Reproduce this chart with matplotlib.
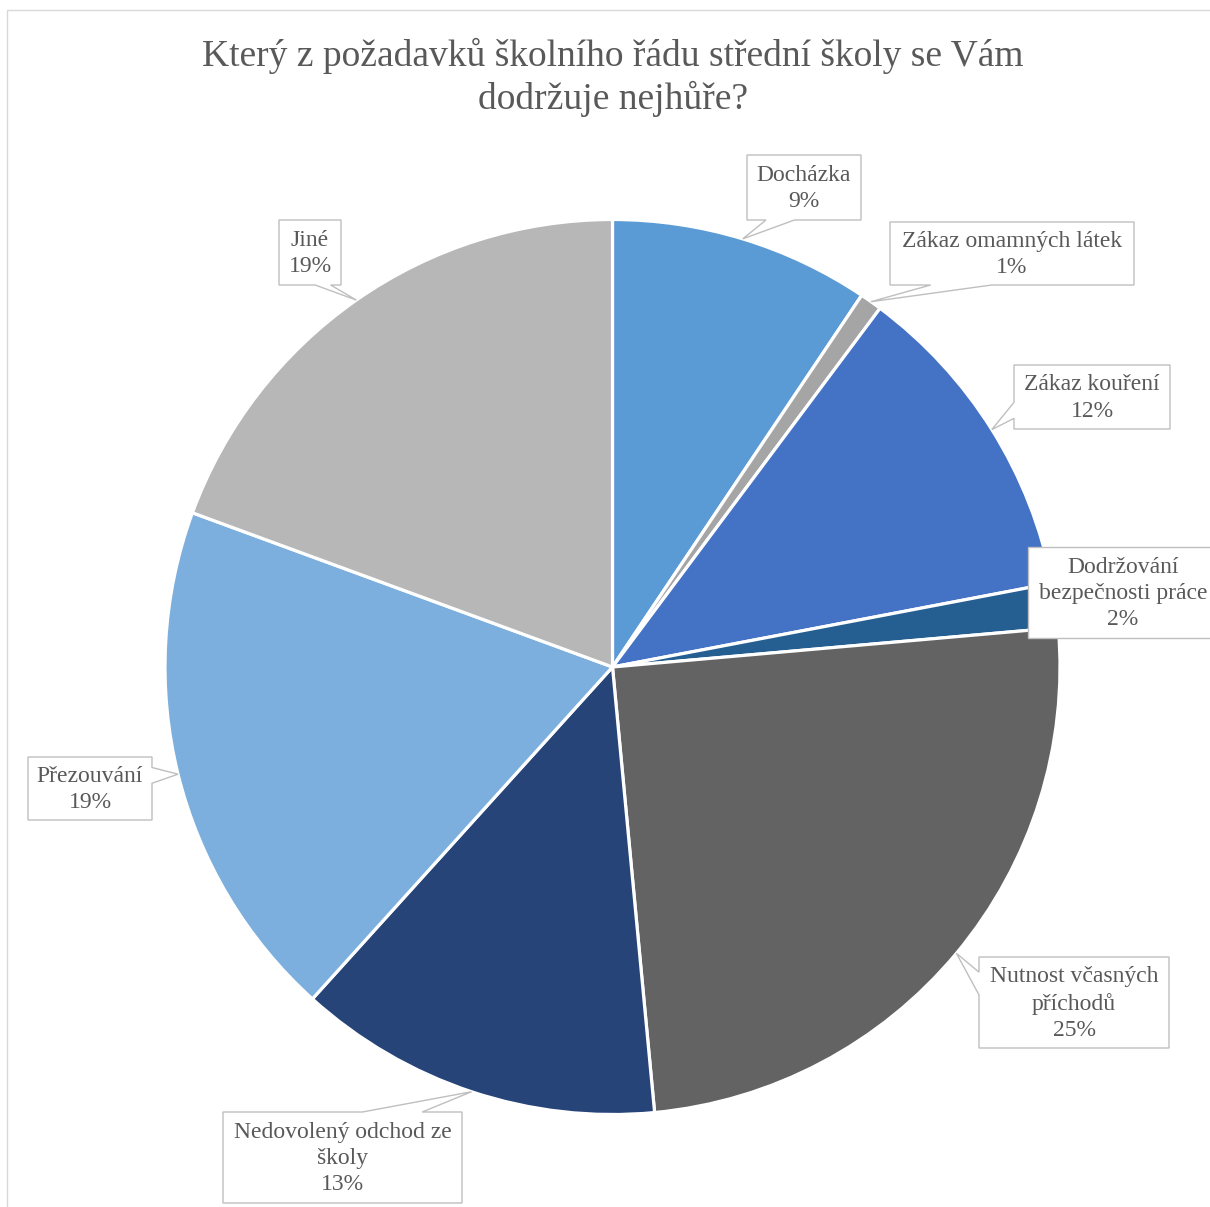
import numpy as np
import matplotlib.pyplot as plt
from matplotlib.patches import Polygon, Rectangle

plt.rcParams['font.family'] = ['Liberation Serif', 'DejaVu Serif']

title = 'Který z požadavků školního řádu střední školy se Vám\ndodržuje nejhůře?'
categories = ['Docházka', 'Zákaz omamných látek', 'Zákaz kouření',
              'Dodržování\nbezpečnosti práce', 'Nutnost včasných\npříchodů',
              'Nedovolený odchod ze\nškoly', 'Přezouvání', 'Jiné']
shares = [9.4, 0.8, 11.8, 1.6, 24.9, 13.2, 18.9, 19.4]
colors = ['#5B9BD5', '#A5A5A5', '#4472C4', '#255E91',
          '#636363', '#264478', '#7CAFDD', '#B7B7B7']

# label boxes in pixel coords (x0, y0, x1, y1), y grows downwards
boxes = [(747, 155, 861, 220), (890, 222, 1134, 285), (1014, 365, 1170, 429),
         (1028, 547, 1218, 638), (979, 957, 1169, 1048), (223, 1112, 462, 1203),
         (28, 757, 152, 820), (279, 220, 341, 285)]
# side of the box the pointer leaves from (None = pick automatically)
sides = [None, None, None, None, None, None, None, 'bottom']

W, H = 1210, 1207
cx, cy, R = 612.5, 667, 447.5
txt_col = '#595959'
box_col = '#BFBFBF'


def callout(box, tip, side=None):
    # excel-like wedgeRectCallout outline
    x0, y0, x1, y1 = box
    w, h = x1 - x0, y1 - y0
    xc, yc = (x0 + x1) / 2, (y0 + y1) / 2
    tx, ty = tip
    dx, dy = tx - xc, ty - yc
    inside = x0 <= tx <= x1 and y0 <= ty <= y1
    if inside:
        side = None
    elif side is None:
        if abs(dy) - abs(dx * h / w) > 0:
            side = 'bottom' if dy > 0 else 'top'
        else:
            side = 'right' if dx > 0 else 'left'
    fx = (7 / 12, 10 / 12) if dx > 0 else (2 / 12, 5 / 12)
    fy = (7 / 12, 10 / 12) if dy > 0 else (2 / 12, 5 / 12)
    pts = [(x0, y0)]
    if side == 'top':
        pts += [(x0 + w * fx[0], y0), (tx, ty), (x0 + w * fx[1], y0)]
    pts.append((x1, y0))
    if side == 'right':
        pts += [(x1, y0 + h * fy[0]), (tx, ty), (x1, y0 + h * fy[1])]
    pts.append((x1, y1))
    if side == 'bottom':
        pts += [(x0 + w * fx[1], y1), (tx, ty), (x0 + w * fx[0], y1)]
    pts.append((x0, y1))
    if side == 'left':
        pts += [(x0, y0 + h * fy[1]), (tx, ty), (x0, y0 + h * fy[0])]
    return pts


fig = plt.figure(figsize=(W / 100, H / 100), dpi=100)
ax = fig.add_axes([0, 0, 1, 1])

# y axis is flipped, so counterclock in data = clockwise on screen
ax.pie(shares, colors=colors, startangle=-90, counterclock=True,
       radius=R, center=(cx, cy), frame=True,
       wedgeprops=dict(edgecolor='white', linewidth=2.3))
ax.set_xlim(0, W)
ax.set_ylim(H, 0)
ax.axis('off')

ax.add_patch(Rectangle((7, 10), 1400, 1400, fill=False, edgecolor='#D9D9D9', lw=1))

frac = np.array(shares) / sum(shares)
mid = (np.cumsum(frac) - frac / 2) * 2 * np.pi
for i, name in enumerate(categories):
    tip = (cx + R * np.sin(mid[i]), cy - R * np.cos(mid[i]))
    ax.add_patch(Polygon(callout(boxes[i], tip, sides[i]), closed=True,
                         facecolor='white', edgecolor=box_col, lw=1.0, zorder=5))
    x0, y0, x1, y1 = boxes[i]
    ax.text((x0 + x1) / 2, (y0 + y1) / 2 + 1, f'{name}\n{frac[i] * 100:.0f}%',
            ha='center', va='center', multialignment='center',
            fontsize=17, color=txt_col, linespacing=1.32, zorder=6)

ax.text(613, 38, title, ha='center', va='top', fontsize=27, color=txt_col,
        linespacing=1.24)

fig.savefig('out.png', dpi=100)
